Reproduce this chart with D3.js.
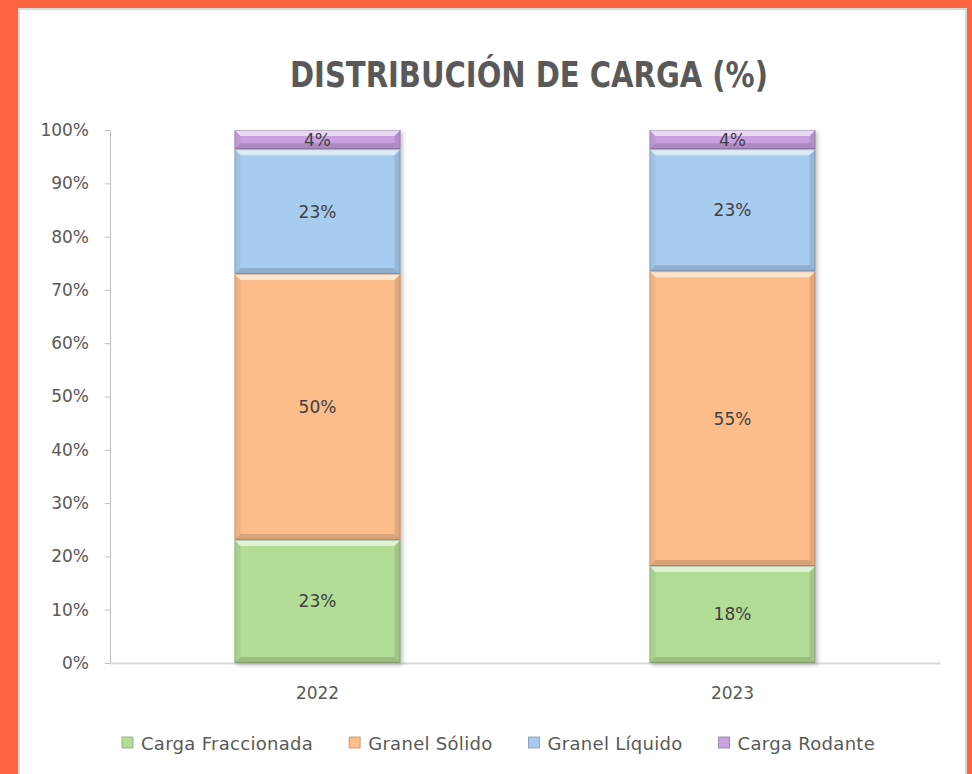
<!DOCTYPE html>
<html>
<head>
<meta charset="utf-8">
<script src="https://cdn.jsdelivr.net/npm/d3@7"></script>
<style>
  html, body { margin: 0; padding: 0; background: #FF6442; }
  svg { display: block; }
  text { font-family: "DejaVu Sans", "Open Sans", sans-serif; }
</style>
</head>
<body>
<div id="chart"></div>
<script>
const YEARS = ['2022', '2023'];
const SERIES = ['Carga Fraccionada', 'Granel Sólido', 'Granel Líquido', 'Carga Rodante'];
const VALUES_2022 = [23.1, 49.9, 23.4, 3.6];
const VALUES_2023 = [18.2, 55.3, 22.9, 3.6];
const Y_TICKS = [0, 10, 20, 30, 40, 50, 60, 70, 80, 90, 100];
const COLORS = ['#B3DC96', '#FDBD8B', '#A8CCF0', '#C9A0E0'];

const W = 972, H = 774;
const m = { top: 130, right: 32, bottom: 111, left: 110 };
const iw = W - m.left - m.right;
const ih = H - m.top - m.bottom;

const svg = d3.select('#chart').append('svg')
  .attr('width', W).attr('height', H);

// white card inside the orange frame
svg.append('rect')
  .attr('x', 19).attr('y', 9).attr('width', 947).attr('height', 780)
  .attr('fill', '#fff').attr('stroke', '#D9D9D9').attr('stroke-width', 2);

svg.append('text')
  .attr('x', 529).attr('y', 87)
  .attr('text-anchor', 'middle')
  .attr('font-family', '"DejaVu Sans Condensed", "DejaVu Sans", sans-serif')
  .attr('font-weight', 'bold')
  .attr('font-size', '35px')
  .attr('fill', '#595959')
  .attr('textLength', 478).attr('lengthAdjust', 'spacingAndGlyphs')
  .text('DISTRIBUCIÓN DE CARGA (%)');

const g = svg.append('g').attr('transform', `translate(${m.left},${m.top})`);

const x = d3.scaleBand().domain(YEARS).range([0, iw])
  .paddingInner(0.6).paddingOuter(0.3);
const y = d3.scaleLinear().domain([0, 100]).range([ih, 0]);

const defs = svg.append('defs');
const f = defs.append('filter').attr('id', 'shadow')
  .attr('x', '-10%').attr('y', '-10%').attr('width', '130%').attr('height', '130%');
f.append('feGaussianBlur').attr('in', 'SourceAlpha').attr('stdDeviation', 2);
f.append('feOffset').attr('dx', 2).attr('dy', 2).attr('result', 'b');
f.append('feComponentTransfer').append('feFuncA').attr('type', 'linear').attr('slope', 0.25);
const mg = f.append('feMerge');
mg.append('feMergeNode');
mg.append('feMergeNode').attr('in', 'SourceGraphic');

// stacked data
const rows = YEARS.map((yr, i) => {
  const vals = i === 0 ? VALUES_2022 : VALUES_2023;
  const o = { year: yr };
  SERIES.forEach((s, j) => { o[s] = vals[j]; });
  return o;
});
const stacked = d3.stack().keys(SERIES)(rows);

const yAxis = g.append('g')
  .call(d3.axisLeft(y).tickValues(Y_TICKS).tickSize(5).tickPadding(16).tickFormat(d => d + '%'));
yAxis.select('.domain').attr('stroke', '#BFBFBF');
yAxis.selectAll('.tick line').attr('stroke', '#BFBFBF');
yAxis.selectAll('.tick text').attr('font-size', '17px').attr('fill', '#595959');

const xAxis = g.append('g').attr('transform', `translate(0,${ih})`)
  .call(d3.axisBottom(x).tickSize(0).tickPadding(24));
xAxis.select('.domain').attr('stroke', '#D9D9D9').attr('stroke-width', 2);
xAxis.selectAll('.tick text').attr('font-size', '17px').attr('fill', '#595959');

const bars = g.append('g').attr('filter', 'url(#shadow)');

stacked.forEach((layer, j) => {
  layer.forEach(d => {
    const x0 = x(d.data.year), w = x.bandwidth();
    const y0 = y(d[1]), h = y(d[0]) - y(d[1]);
    const b = Math.min(6, h / 2);
    const seg = bars.append('g');
    seg.append('rect').attr('x', x0).attr('y', y0).attr('width', w).attr('height', h)
      .attr('fill', COLORS[j]);
    const poly = (pts, fill, op) => seg.append('polygon')
      .attr('points', pts.map(p => p.join(',')).join(' '))
      .attr('fill', fill).attr('opacity', op);
    poly([[x0, y0], [x0 + w, y0], [x0 + w - b, y0 + b], [x0 + b, y0 + b]], '#fff', 0.6);
    poly([[x0, y0 + h], [x0 + w, y0 + h], [x0 + w - b, y0 + h - b], [x0 + b, y0 + h - b]], '#000', 0.14);
    poly([[x0, y0], [x0 + b, y0 + b], [x0 + b, y0 + h - b], [x0, y0 + h]], '#000', 0.05);
    poly([[x0 + w, y0], [x0 + w - b, y0 + b], [x0 + w - b, y0 + h - b], [x0 + w, y0 + h]], '#000', 0.1);
    seg.append('rect').attr('x', x0 + 0.5).attr('y', y0 + 0.5).attr('width', w - 1).attr('height', h - 1)
      .attr('fill', 'none').attr('stroke', '#000').attr('stroke-opacity', 0.18);
  });
});

stacked.forEach(layer => {
  g.selectAll(null).data(layer).join('text')
    .attr('x', d => x(d.data.year) + x.bandwidth() / 2)
    .attr('y', d => (y(d[0]) + y(d[1])) / 2)
    .attr('text-anchor', 'middle')
    .attr('dominant-baseline', 'central')
    .attr('font-size', '17px')
    .attr('fill', '#404040')
    .text(d => Math.round(d[1] - d[0]) + '%');
});

// legend
const leg = svg.append('g').attr('transform', 'translate(0,743)');
let lx = 122;
SERIES.forEach((s, j) => {
  leg.append('rect').attr('x', lx).attr('y', -6).attr('width', 11).attr('height', 11)
    .attr('fill', COLORS[j]).attr('stroke', d3.color(COLORS[j]).darker(0.8)).attr('stroke-width', 0.8);
  const t = leg.append('text').attr('x', lx + 19).attr('y', 0)
    .attr('dominant-baseline', 'central')
    .attr('font-size', '18px').attr('letter-spacing', '0.3px')
    .attr('fill', '#595959').text(s);
  lx += 19 + t.node().getComputedTextLength() + 36;
});
</script>
</body>
</html>
